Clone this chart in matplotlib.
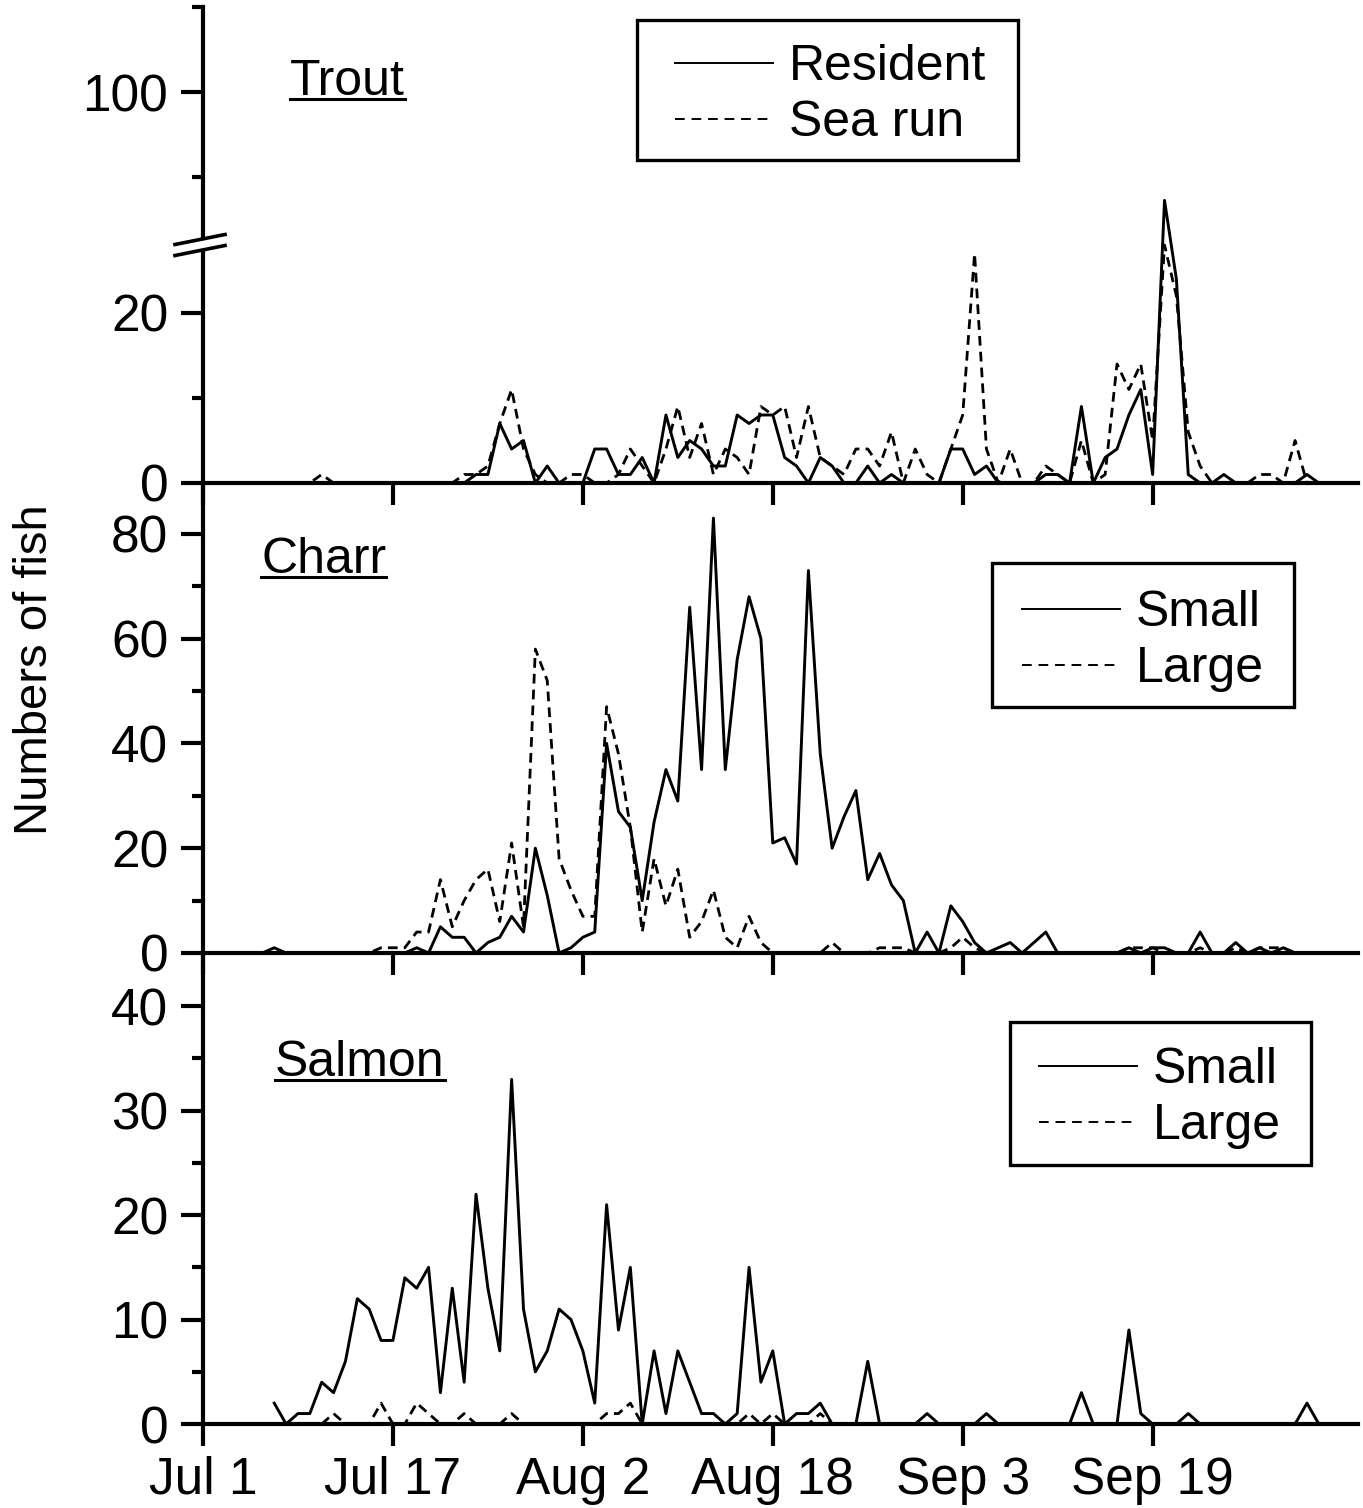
import numpy as np
import matplotlib.pyplot as plt
from matplotlib.lines import Line2D
from matplotlib.patches import Rectangle

plt.rcParams['font.family'] = ['Liberation Sans', 'DejaVu Sans']

FIG_W, FIG_H = 1363, 1508

# x axis: days after Jul 1
date_ticks = [0, 16, 32, 48, 64, 80]
date_labels = ['Jul 1', 'Jul 17', 'Aug 2', 'Aug 18', 'Sep 3', 'Sep 19']

# Trout, daily counts from day 8 to day 94
trout_start = 8
trout_resident = [0, 0, 0, 0, 0, 0, 0, 0, 0, 0, 0, 0, 0, 0, 0,
                  1, 1, 7, 4, 5, 0, 2, 0, 0, 0,
                  4, 4, 1, 1, 3, 0, 8, 3, 5, 4,
                  2, 2, 8, 7, 8, 8, 3, 2, 0, 3,
                  2, 0, 0, 2, 0, 1, 0, 0, 0, 0,
                  4, 4, 1, 2, 0, 0, 0, 0, 1, 1,
                  0, 9, 0, 3, 4, 8, 11, 1, 49, 24,
                  1, 0, 0, 1, 0, 0, 0, 0, 0, 0,
                  1, 0]
trout_searun = [0, 0, 1, 0, 0, 0, 0, 0, 0, 0, 0, 0, 0, 0, 1,
                1, 2, 7, 11, 4, 1, 0, 0, 1, 1,
                0, 0, 1, 4, 2, 0, 4, 9, 3, 7,
                1, 4, 3, 1, 9, 8, 9, 3, 9, 3,
                2, 1, 4, 4, 2, 6, 0, 4, 1, 0,
                4, 8, 27, 4, 0, 4, 0, 0, 2, 1,
                0, 5, 0, 1, 14, 11, 14, 5, 28, 22,
                6, 2, 0, 0, 0, 0, 1, 1, 0, 5,
                0, 0]

# Charr, day 5 to day 92
charr_start = 5
charr_small = [0, 1, 0, 0, 0, 0, 0, 0, 0, 0,
               0, 0, 0, 1, 0, 5, 3, 3, 0, 2,
               3, 7, 4, 20, 11, 0, 1, 3, 4, 40,
               27, 24, 10, 25, 35, 29, 66, 35, 83, 35,
               56, 68, 60, 21, 22, 17, 73, 38, 20, 26,
               31, 14, 19, 13, 10, 0, 4, 0, 9, 6,
               2, 0, 1, 2, 0, 2, 4, 0, 0, 0,
               0, 0, 0, 1, 0, 1, 1, 0, 0, 4,
               0, 0, 2, 0, 1, 0, 1, 0]
charr_large = [0, 0, 0, 0, 0, 0, 0, 0, 0, 0,
               1, 1, 1, 4, 4, 14, 5, 10, 14, 16,
               6, 21, 5, 58, 52, 18, 12, 7, 7, 47,
               38, 24, 4, 18, 9, 16, 3, 6, 12, 3,
               1, 7, 2, 0, 0, 0, 0, 0, 2, 0,
               0, 0, 1, 1, 1, 0, 0, 0, 1, 3,
               1, 0, 0, 0, 0, 0, 0, 0, 0, 0,
               0, 0, 0, 1, 1, 1, 0, 0, 0, 1,
               0, 0, 1, 0, 1, 1, 1, 0]

# Salmon, day 6 to day 94
salmon_start = 6
salmon_small = [2, 0, 1, 1, 4, 3, 6, 12, 11, 8,
                8, 14, 13, 15, 3, 13, 4, 22, 13, 7,
                33, 11, 5, 7, 11, 10, 7, 2, 21, 9,
                15, 0, 7, 1, 7, 4, 1, 1, 0, 1,
                15, 4, 7, 0, 1, 1, 2, 0, 0, 0,
                6, 0, 0, 0, 0, 1, 0, 0, 0, 0,
                1, 0, 0, 0, 0, 0, 0, 0, 3, 0,
                0, 0, 9, 1, 0, 0, 0, 1, 0, 0,
                0, 0, 0, 0, 0, 0, 0, 2, 0]
salmon_large = [0, 0, 0, 0, 0, 1, 0, 0, 0, 2,
                0, 0, 2, 1, 0, 0, 1, 0, 0, 0,
                1, 0, 0, 0, 0, 0, 0, 0, 1, 1,
                2, 0, 0, 0, 0, 0, 0, 0, 0, 0,
                1, 0, 1, 0, 0, 0, 1, 0, 0, 0,
                0, 0, 0, 0, 0, 0, 0, 0, 0, 0,
                0, 0, 0, 0, 0, 0, 0, 0, 0, 0,
                0, 0, 0, 0, 0, 0, 0, 0, 0, 0,
                0, 0, 0, 0, 0, 0, 0, 0, 0]

DASH = (0, (3.5, 2.2))
FS = 37      # tick labels
LFS = 36     # legend and panel titles


def px(x, y):
    """pixel position (from top-left) -> figure fraction"""
    return x / FIG_W, 1 - y / FIG_H


def make_axes(top, bottom):
    l, b = px(203, bottom)
    r, t = px(1358, top)
    ax = fig.add_axes([l, b, r - l, t - b])
    for s in ('top', 'right'):
        ax.spines[s].set_visible(False)
    for s in ('left', 'bottom'):
        ax.spines[s].set_linewidth(3)
    ax.tick_params(which='major', direction='out', length=16, width=3,
                   labelsize=FS, pad=9)
    ax.tick_params(which='minor', direction='out', length=8, width=3)
    ax.set_xlim(0, 97.3)
    ax.set_xticks(date_ticks)
    ax.set_xticklabels([])
    ax.patch.set_alpha(0)
    return ax


def draw_series(ax, start, solid, dashed):
    days = np.arange(start, start + len(solid))
    ax.plot(days, solid, color='k', lw=2.1)
    ax.plot(days, dashed, color='k', lw=2.0, linestyle=DASH)


def boxed_legend(ax, labels, box, handle_x, center_y):
    handles = [Line2D([], [], color='k', lw=1.4),
               Line2D([], [], color='k', lw=1.4, linestyle=(0, (5, 3.5)))]
    ax.legend(handles, labels, loc='center left',
              bbox_to_anchor=px(handle_x, center_y),
              bbox_transform=fig.transFigure, frameon=False, fontsize=LFS,
              handlelength=1.95, handletextpad=0.33, borderpad=0,
              borderaxespad=0, labelspacing=0.2)
    x0, y0, x1, y1 = box
    fig.add_artist(Rectangle(px(x0, y1), (x1 - x0) / FIG_W, (y1 - y0) / FIG_H,
                             transform=fig.transFigure, fill=False, lw=2.4,
                             ec='k'))


fig = plt.figure(figsize=(FIG_W / 100, FIG_H / 100), dpi=100)

# ---- Trout (broken y axis: 0-28 linear, compressed above) ----
BREAK = 28


def fwd(v):
    v = np.asarray(v, dtype=float)
    return np.where(v <= BREAK, v, BREAK + (v - BREAK) * 0.25)


def inv(u):
    u = np.asarray(u, dtype=float)
    return np.where(u <= BREAK, u, BREAK + (u - BREAK) / 0.25)


ax_t = make_axes(7, 483)
ax_t.set_yscale('function', functions=(fwd, inv))
ax_t.set_ylim(0, 140)
ax_t.set_yticks([0, 20, 100])
ax_t.set_yticks([10, 60, 140], minor=True)
ax_t.set_yticklabels(['0', '20', '100'])
ax_t.yaxis.set_minor_formatter(plt.NullFormatter())
draw_series(ax_t, trout_start, trout_resident, trout_searun)
boxed_legend(ax_t, ['Resident', 'Sea run'], (637, 20, 1018, 160), 675, 95)

# ---- Charr ----
ax_c = make_axes(483, 953)
ax_c.set_ylim(0, 89.7)
ax_c.set_yticks([0, 20, 40, 60, 80])
ax_c.set_yticks([10, 30, 50, 70], minor=True)
draw_series(ax_c, charr_start, charr_small, charr_large)
boxed_legend(ax_c, ['Small', 'Large'], (992, 563, 1294, 707), 1022, 641)

# ---- Salmon ----
ax_s = make_axes(953, 1424)
ax_s.set_ylim(0, 45.1)
ax_s.set_yticks([0, 10, 20, 30, 40])
ax_s.set_yticks([5, 15, 25, 35], minor=True)
ax_s.set_xticklabels(date_labels)
ax_s.tick_params(axis='x', pad=7)
draw_series(ax_s, salmon_start, salmon_small, salmon_large)
boxed_legend(ax_s, ['Small', 'Large'], (1010, 1022, 1311, 1165), 1039, 1098)

# axis break mark on the trout y axis
yb = 245
xa, xb = 175, 225
band = Line2D([xa / FIG_W, xb / FIG_W],
              [1 - (yb + 5) / FIG_H, 1 - (yb - 5) / FIG_H],
              transform=fig.transFigure, color='white', lw=6, zorder=10)
fig.add_artist(band)
for off in (-5.5, 5.5):
    fig.add_artist(Line2D([xa / FIG_W, xb / FIG_W],
                          [1 - (yb + 5 + off) / FIG_H, 1 - (yb - 5 + off) / FIG_H],
                          transform=fig.transFigure, color='k', lw=2.6,
                          zorder=11))

# panel titles, underlined
titles = [('Trout', 290, 95), ('Charr', 261, 573), ('Salmon', 275, 1076)]
title_texts = [fig.text(*px(x, y), s, fontsize=LFS, ha='left', va='baseline')
               for s, x, y in titles]

fig.text(*px(35, 670), 'Numbers of fish', fontsize=34, rotation=90,
         ha='center', va='center')

fig.canvas.draw()
renderer = fig.canvas.get_renderer()
for t, (s, x, y) in zip(title_texts, titles):
    bb = t.get_window_extent(renderer)
    fig.add_artist(Line2D([bb.x0 / FIG_W, bb.x1 / FIG_W],
                          [1 - (y + 4) / FIG_H] * 2,
                          transform=fig.transFigure, color='k', lw=2.2))

fig.savefig('out.png', dpi=100)
